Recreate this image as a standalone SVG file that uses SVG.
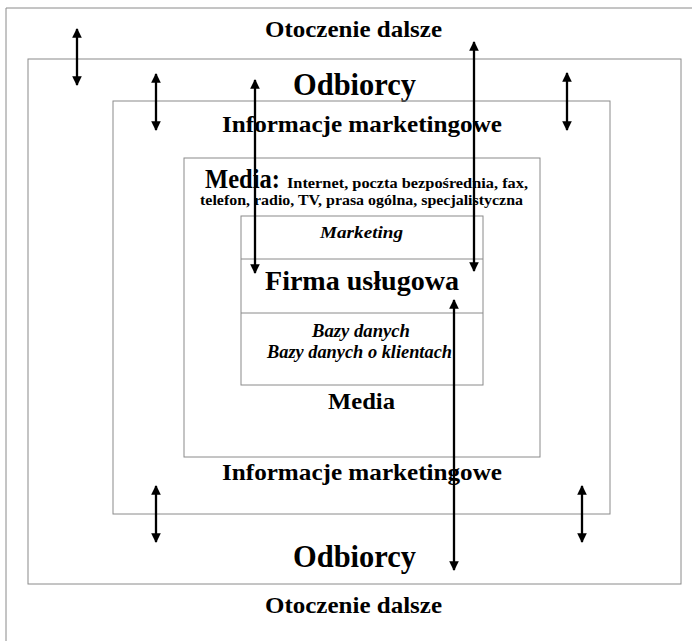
<svg xmlns="http://www.w3.org/2000/svg" width="692" height="641" viewBox="0 0 692 641">
<defs>
<marker id="ah" viewBox="0 0 10 10" refX="9" refY="5" markerWidth="4.6" markerHeight="4.2" orient="auto-start-reverse" markerUnits="strokeWidth">
<path d="M0,0 L10,5 L0,10 z" fill="#000"/>
</marker>
<style>
.box{fill:none;stroke:#8a8a8a;stroke-width:1}
.t{font-family:"Liberation Serif","Times New Roman",serif;font-weight:bold;fill:#000}
.i{font-style:italic}
.arr{stroke:#000;stroke-width:2.3;fill:none;marker-start:url(#ah);marker-end:url(#ah)}
</style>
</defs>
<rect width="692" height="641" fill="#fff"/>
<path d="M6,641 V8 H692" class="box"/>
<g id="otoczenie">
<text class="t" x="265" y="37" font-size="24" textLength="177" lengthAdjust="spacingAndGlyphs">Otoczenie dalsze</text>
<text class="t" x="265" y="613" font-size="24" textLength="177" lengthAdjust="spacingAndGlyphs">Otoczenie dalsze</text>
</g>
<g id="odbiorcy">
<rect class="box" x="28" y="59" width="653" height="525"/>
<text class="t" x="293" y="95" font-size="32" textLength="123" lengthAdjust="spacingAndGlyphs">Odbiorcy</text>
<text class="t" x="293" y="567" font-size="32" textLength="123" lengthAdjust="spacingAndGlyphs">Odbiorcy</text>
</g>
<g id="informacje">
<rect class="box" x="113" y="101" width="497" height="413"/>
<text class="t" x="222" y="132" font-size="24" textLength="280" lengthAdjust="spacingAndGlyphs">Informacje marketingowe</text>
<text class="t" x="222" y="480" font-size="24" textLength="280" lengthAdjust="spacingAndGlyphs">Informacje marketingowe</text>
</g>
<g id="media">
<rect class="box" x="184" y="158" width="356" height="299"/>
<text class="t" x="205" y="188" font-size="28" textLength="75" lengthAdjust="spacingAndGlyphs">Media:</text>
<text class="t" x="287" y="188" font-size="15" textLength="241" lengthAdjust="spacingAndGlyphs">Internet, poczta bezpośrednia, fax,</text>
<text class="t" x="200" y="205" font-size="15" textLength="323" lengthAdjust="spacingAndGlyphs">telefon, radio, TV, prasa ogólna, specjalistyczna</text>
<text class="t" x="328" y="409" font-size="23" textLength="67" lengthAdjust="spacingAndGlyphs">Media</text>
</g>
<g id="firma">
<rect class="box" x="241" y="216" width="242" height="169"/>
<line class="box" x1="241" y1="259" x2="483" y2="259"/>
<line class="box" x1="241" y1="313" x2="483" y2="313"/>
<text class="t i" x="320" y="238" font-size="17" textLength="83" lengthAdjust="spacingAndGlyphs">Marketing</text>
<text class="t" x="265" y="290" font-size="28" textLength="194" lengthAdjust="spacingAndGlyphs">Firma usługowa</text>
<text class="t i" x="312" y="337" font-size="18" textLength="98" lengthAdjust="spacingAndGlyphs">Bazy danych</text>
<text class="t i" x="267" y="358" font-size="18" textLength="185" lengthAdjust="spacingAndGlyphs">Bazy danych o klientach</text>
</g>
<g id="connectors">
<line class="arr" x1="77" y1="29" x2="77" y2="85"/>
<line class="arr" x1="156" y1="74" x2="156" y2="130"/>
<line class="arr" x1="255" y1="80" x2="255" y2="273"/>
<line class="arr" x1="474" y1="42" x2="474" y2="271"/>
<line class="arr" x1="567" y1="73" x2="567" y2="130"/>
<line class="arr" x1="454" y1="300" x2="454" y2="570"/>
<line class="arr" x1="156" y1="486" x2="156" y2="542"/>
<line class="arr" x1="582" y1="486" x2="582" y2="542"/>
</g>
</svg>
